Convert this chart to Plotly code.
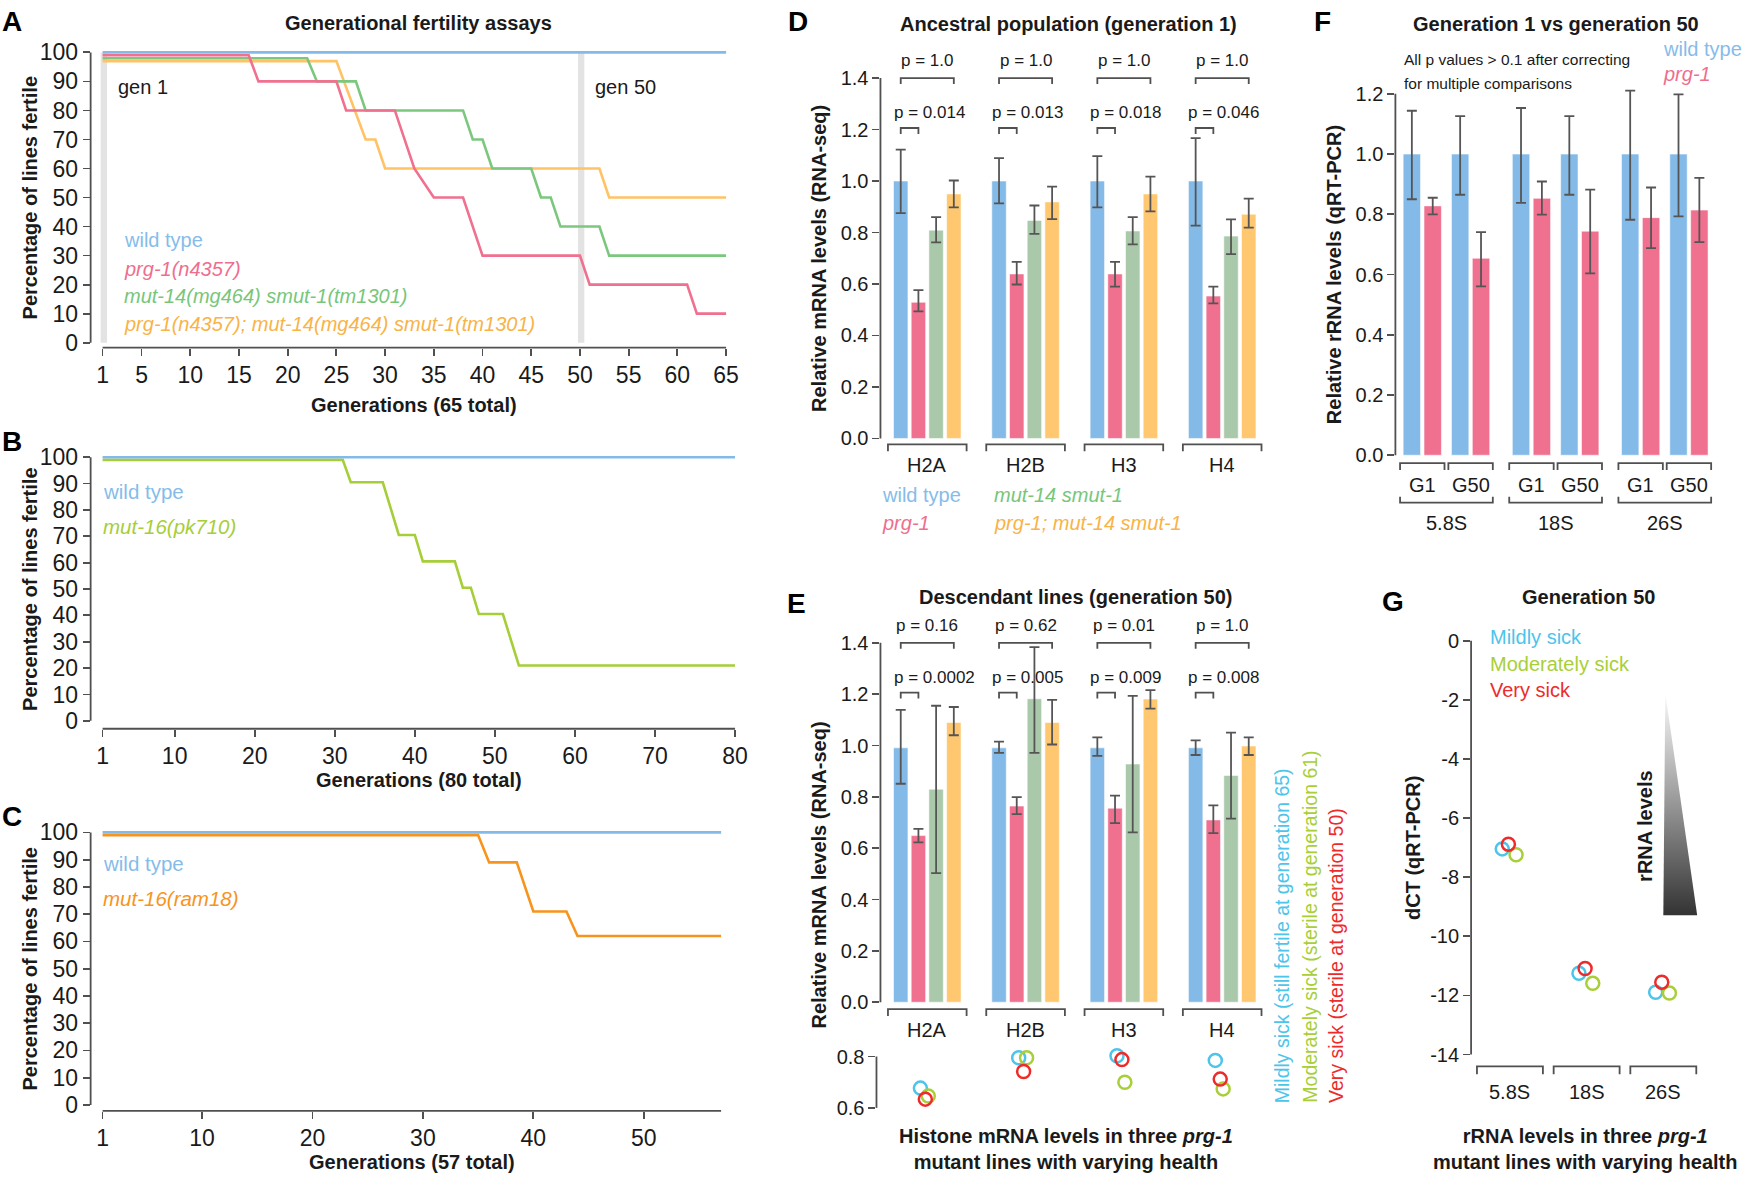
import plotly.graph_objects as go

W, H = 1749, 1186
FONT = "Liberation Sans, Arial, Helvetica, sans-serif"

# ======================= DATA =======================
# Panel A
pct_ticks = [0, 10, 20, 30, 40, 50, 60, 70, 80, 90, 100]
a_xticks = [1, 5, 10, 15, 20, 25, 30, 35, 40, 45, 50, 55, 60, 65]
a_wt_gen = [1, 65]
a_wt_pct = [100, 100]
a_prg1_gen = [1, 16, 17, 25, 26, 31, 33, 35, 38, 40, 50, 51, 61, 62, 65]
a_prg1_pct = [99, 99, 90, 90, 80, 80, 60, 50, 50, 30, 30, 20, 20, 10, 10]
a_mut14_gen = [1, 22, 23, 27, 28, 38, 39, 40, 41, 45, 46, 47, 48, 52, 53, 65]
a_mut14_pct = [98, 98, 90, 90, 80, 80, 70, 70, 60, 60, 50, 50, 40, 40, 30, 30]
a_double_gen = [1, 25, 28, 29, 30, 52, 53, 65]
a_double_pct = [97, 97, 70, 70, 60, 60, 50, 50]
a_marked_gens = [1, 50]
a_marked_labels = ["gen 1", "gen 50"]
a_legend = ["wild type", "prg-1(n4357)", "mut-14(mg464) smut-1(tm1301)",
            "prg-1(n4357); mut-14(mg464) smut-1(tm1301)"]

# Panel B
b_xticks = [1, 10, 20, 30, 40, 50, 60, 70, 80]
b_wt_gen = [1, 80]
b_wt_pct = [100, 100]
b_mut16_gen = [1, 31, 32, 36, 38, 40, 41, 45, 46, 47, 48, 51, 53, 80]
b_mut16_pct = [99, 99, 90.5, 90.5, 70.5, 70.5, 60.5, 60.5, 50.5, 50.5, 40.5, 40.5, 21, 21]
b_legend = ["wild type", "mut-16(pk710)"]

# Panel C
c_xticks = [1, 10, 20, 30, 40, 50]
c_wt_gen = [1, 57]
c_wt_pct = [100, 100]
c_ram18_gen = [1, 35, 36, 38.5, 40, 43, 44, 57]
c_ram18_pct = [99, 99, 89, 89, 71, 71, 62, 62]
c_legend = ["wild type", "mut-16(ram18)"]

# Panel D (generation 1 RNA-seq)
histones = ["H2A", "H2B", "H3", "H4"]
mrna_ticks = [0, 0.2, 0.4, 0.6, 0.8, 1.0, 1.2, 1.4]
mrna_ticktext = ["0.0", "0.2", "0.4", "0.6", "0.8", "1.0", "1.2", "1.4"]
d_wt = [1.0, 1.0, 1.0, 1.0]
d_wt_hi = [1.122, 1.089, 1.097, 1.167]
d_wt_lo = [0.875, 0.913, 0.898, 0.827]
d_prg1 = [0.529, 0.639, 0.639, 0.553]
d_prg1_hi = [0.576, 0.686, 0.686, 0.590]
d_prg1_lo = [0.494, 0.598, 0.590, 0.525]
d_mut14 = [0.809, 0.847, 0.806, 0.786]
d_mut14_hi = [0.860, 0.905, 0.860, 0.851]
d_mut14_lo = [0.762, 0.795, 0.754, 0.716]
d_double = [0.950, 0.919, 0.950, 0.871]
d_double_hi = [1.002, 0.978, 1.017, 0.932]
d_double_lo = [0.898, 0.852, 0.882, 0.819]
d_p_outer = ["p = 1.0", "p = 1.0", "p = 1.0", "p = 1.0"]
d_p_inner = ["p = 0.014", "p = 0.013", "p = 0.018", "p = 0.046"]
d_legend = ["wild type", "prg-1", "mut-14 smut-1", "prg-1; mut-14 smut-1"]

# Panel E (generation 50 RNA-seq)
e_wt = [0.991, 0.991, 0.991, 0.991]
e_wt_hi = [1.139, 1.015, 1.032, 1.020]
e_wt_lo = [0.851, 0.971, 0.960, 0.963]
e_prg1 = [0.649, 0.764, 0.756, 0.710]
e_prg1_hi = [0.675, 0.799, 0.805, 0.767]
e_prg1_lo = [0.623, 0.733, 0.698, 0.659]
e_mut14 = [0.830, 1.182, 0.928, 0.883]
e_mut14_hi = [1.155, 1.383, 1.193, 1.050]
e_mut14_lo = [0.503, 0.971, 0.662, 0.715]
e_double = [1.090, 1.090, 1.181, 0.998]
e_double_hi = [1.150, 1.178, 1.216, 1.032]
e_double_lo = [1.040, 1.004, 1.144, 0.963]
e_p_outer = ["p = 0.16", "p = 0.62", "p = 0.01", "p = 1.0"]
e_p_inner = ["p = 0.0002", "p = 0.005", "p = 0.009", "p = 0.008"]
dot_ticks = [0.6, 0.8]
dot_ticktext = ["0.6", "0.8"]
e_mild = [0.677, 0.795, 0.803, 0.785]
e_moderate = [0.646, 0.795, 0.700, 0.674]
e_very = [0.634, 0.742, 0.788, 0.712]
health_legend = ["Mildly sick (still fertile at generation 65)",
                 "Moderately sick (sterile at generation 61)",
                 "Very sick (sterile at generation 50)"]

# Panel F (qRT-PCR rRNA)
rrnas = ["5.8S", "18S", "26S"]
f_gens = ["G1", "G50"]
rrna_ticks = [0, 0.2, 0.4, 0.6, 0.8, 1.0, 1.2]
rrna_ticktext = ["0.0", "0.2", "0.4", "0.6", "0.8", "1.0", "1.2"]
f_wt = [1.0, 1.0, 1.0, 1.0, 1.0, 1.0]
f_wt_hi = [1.144, 1.126, 1.153, 1.126, 1.211, 1.198]
f_wt_lo = [0.850, 0.865, 0.838, 0.865, 0.782, 0.793]
f_prg1 = [0.828, 0.654, 0.853, 0.744, 0.789, 0.814]
f_prg1_hi = [0.855, 0.741, 0.909, 0.882, 0.889, 0.921]
f_prg1_lo = [0.800, 0.561, 0.799, 0.604, 0.688, 0.708]

# Panel G (dCT)
dct_ticks = [0, -2, -4, -6, -8, -10, -12, -14]
dct_ticktext = ["0", "-2", "-4", "-6", "-8", "-10", "-12", "-14"]
g_mild = [-7.04, -11.25, -11.89]
g_moderate = [-7.24, -11.59, -11.92]
g_very = [-6.88, -11.09, -11.55]
g_legend = ["Mildly sick", "Moderately sick", "Very sick"]

# ======================= STYLE =======================
C_WT = "#84BAE7"
C_PRG = "#F0708F"
C_MUT_LINE = "#7CC77E"
C_MUT_BAR = "#A9C9AA"
C_DBL_LINE = "#FFC265"
C_DBL_BAR = "#FFC870"
C_WT_TXT = "#86BCEA"
C_PRG_TXT = "#EE6E8E"
C_MUT_TXT = "#78C67A"
C_DBL_TXT = "#F9B347"
C_PK710 = "#A6CE39"
C_RAM18 = "#F7941D"
C_MILD = "#4DC4EA"
C_MOD = "#A8CF38"
C_VERY = "#EE2B2B"
AX = "#505050"
AXW = 1.8
TXT = "#1a1a1a"
ERR = dict(color="#555555", thickness=1.8, width=5)
BAR_EDGE = dict(width=1, color="rgba(255,255,255,0.55)")


class Panel:
    def __init__(self, xd, xp, yd, yp, box):
        self.sx = (xp[1] - xp[0]) / (xd[1] - xd[0])
        self.x0d, self.x0p = xd[0], xp[0]
        self.sy = (yp[1] - yp[0]) / (yd[1] - yd[0])
        self.y0d, self.y0p = yd[0], yp[0]
        self.box = box

    def px(self, d):
        return self.x0p + (d - self.x0d) * self.sx

    def py(self, d):
        return self.y0p + (d - self.y0d) * self.sy

    def dx(self, p):
        return self.x0d + (p - self.x0p) / self.sx

    def dy(self, p):
        return self.y0d + (p - self.y0p) / self.sy

    def xrange(self):
        return [self.dx(self.box[0]), self.dx(self.box[2])]

    def yrange(self):
        return [self.dy(self.box[3]), self.dy(self.box[1])]

    def xdomain(self):
        return [self.box[0] / W, self.box[2] / W]

    def ydomain(self):
        return [1 - self.box[3] / H, 1 - self.box[1] / H]


PA = Panel((1, 65), (103, 729), (0, 100), (342, 48), (91, 40, 735, 347))
PB = Panel((1, 80), (103, 738), (0, 100), (725, 458), (91, 450, 744, 733))
PC = Panel((1, 57), (103, 724), (0, 100), (1114, 838), (91, 830, 730, 1120))
PD = Panel((0, 1), (931, 1029.7), (0, 1.4), (439, 74), (884, 60, 1272, 440))
PE = Panel((0, 1), (931, 1029.7), (0, 1.4), (1010, 646), (884, 632, 1272, 1011))
PE2 = Panel((0, 1), (931, 1029.7), (0.6, 0.8), (1117, 1065), (880, 1050, 1272, 1125))
PF = Panel((0, 1), (1428, 1476.5), (0, 1.2), (456, 90), (1401, 80, 1725, 457))
PG = Panel((0, 1), (1516, 1593), (0, -14), (644, 1063), (1477, 630, 1712, 1064))

fig = go.Figure()
layout_axes = {}
shapes = []
ann = []


def fx(p):
    return p / W


def fy(p):
    return 1 - p / H


def hline(x0, y0, x1, y1, color=AX, width=AXW):
    shapes.append(dict(type="line", xref="paper", yref="paper", x0=fx(x0), y0=fy(y0),
                       x1=fx(x1), y1=fy(y1), line=dict(color=color, width=width)))


def bracket(x0, x1, y, drop, color=AX, width=AXW):
    path = (f"M {fx(x0)},{fy(y + drop)} L {fx(x0)},{fy(y)} "
            f"L {fx(x1)},{fy(y)} L {fx(x1)},{fy(y + drop)}")
    shapes.append(dict(type="path", xref="paper", yref="paper", path=path,
                       line=dict(color=color, width=width)))


def txt(x, y, s, size=20, color=TXT, xanchor="center", yanchor="middle", angle=0):
    ann.append(dict(x=fx(x), y=fy(y), xref="paper", yref="paper", text=s, showarrow=False,
                    xanchor=xanchor, yanchor=yanchor, textangle=angle, borderpad=0,
                    font=dict(family=FONT, size=size, color=color)))


def names(i):
    s = "" if i == 1 else str(i)
    return "xaxis" + s, "yaxis" + s, "x" + s, "y" + s


def setup(i, P, yvals, ytext, tick_size, xvals=None):
    xa, ya, xr, yr = names(i)
    base = dict(showgrid=False, zeroline=False, showline=False, fixedrange=True)
    xd = dict(base, domain=P.xdomain(), range=P.xrange(), anchor=yr)
    if xvals is not None:
        xd.update(tickmode="array", tickvals=xvals, ticktext=[str(v) for v in xvals],
                  ticks="outside", ticklen=7, tickwidth=AXW, tickcolor=AX,
                  tickfont=dict(family=FONT, size=tick_size, color=TXT))
    else:
        xd.update(showticklabels=False, ticks="")
    yd = dict(base, domain=P.ydomain(), range=P.yrange(), anchor=xr,
              tickmode="array", tickvals=yvals, ticktext=ytext, ticks="outside",
              ticklen=7, tickwidth=AXW, tickcolor=AX,
              tickfont=dict(family=FONT, size=tick_size, color=TXT))
    layout_axes[xa] = xd
    layout_axes[ya] = yd
    return xr, yr


# ======================= PANELS A-C =======================
def line_panel(i, P, xticks, series, last_gen, ytitle_y, xtitle, xtitle_y):
    xr, yr = setup(i, P, pct_ticks, [str(v) for v in pct_ticks], 23, xticks)
    for gx, gy, col in series:
        fig.add_trace(go.Scatter(x=gx, y=gy, mode="lines", line=dict(color=col, width=2.6),
                                 xaxis=xr, yaxis=yr, hoverinfo="skip"))
    hline(P.box[0], P.py(0), P.box[0], P.py(100))
    hline(P.px(1), P.box[3], P.px(last_gen), P.box[3])
    txt(30, ytitle_y, "<b>Percentage of lines fertile</b>", 20, angle=-90)
    txt((P.px(1) + P.px(last_gen)) / 2, xtitle_y, f"<b>{xtitle}</b>", 20)
    return xr, yr


xrA, yrA = line_panel(1, PA, a_xticks,
                      [(a_double_gen, a_double_pct, C_DBL_LINE),
                       (a_mut14_gen, a_mut14_pct, C_MUT_LINE),
                       (a_prg1_gen, a_prg1_pct, C_PRG),
                       (a_wt_gen, a_wt_pct, C_WT)],
                      65, (PA.py(0) + PA.py(100)) / 2, "Generations (65 total)", 405)
for g, lab in zip(a_marked_gens, a_marked_labels):
    shapes.append(dict(type="rect", xref=xrA, yref=yrA, x0=g - 0.2, x1=g + 0.45, y0=0, y1=100,
                       fillcolor="#E3E3E3", line=dict(width=0), layer="below"))
    txt(PA.px(g) + 14, 83, lab, 20, xanchor="left")
txt(420, 18, "<b>Generational fertility assays</b>", 20)
for lab, col, yy, it in zip(a_legend, [C_WT_TXT, C_PRG_TXT, C_MUT_TXT, C_DBL_TXT],
                            [238, 267, 295, 323], [False, True, True, True]):
    txt(123, yy, f"<i>{lab}</i>" if it else lab, 20, col, xanchor="left")

line_panel(2, PB, b_xticks,
           [(b_mut16_gen, b_mut16_pct, C_PK710), (b_wt_gen, b_wt_pct, C_WT)],
           80, (PB.py(0) + PB.py(100)) / 2, "Generations (80 total)", 785)
txt(102, 493, b_legend[0], 20.5, C_WT_TXT, xanchor="left")
txt(102, 528, f"<i>{b_legend[1]}</i>", 20.5, C_PK710, xanchor="left")

line_panel(3, PC, c_xticks,
           [(c_ram18_gen, c_ram18_pct, C_RAM18), (c_wt_gen, c_wt_pct, C_WT)],
           57, (PC.py(0) + PC.py(100)) / 2, "Generations (57 total)", 1172)
txt(102, 870, c_legend[0], 20.5, C_WT_TXT, xanchor="left")
txt(102, 905, f"<i>{c_legend[1]}</i>", 20.5, C_RAM18, xanchor="left")

# ======================= PANELS D / E =======================
PITCH, BW = 0.18, 0.147
OFF4 = [-1.5, -0.5, 0.5, 1.5]


def bar_panel(i, P, series, p_outer, p_inner, group_label_y, bracket_y):
    xr, yr = setup(i, P, mrna_ticks, mrna_ticktext, 20)
    for j, (vals, hi, lo, col) in enumerate(series):
        fig.add_trace(go.Bar(
            x=[k + OFF4[j] * PITCH for k in range(len(vals))], y=vals, width=BW,
            marker=dict(color=col, line=BAR_EDGE),
            error_y=dict(type="data", symmetric=False,
                         array=[h - v for h, v in zip(hi, vals)],
                         arrayminus=[v - l for v, l in zip(vals, lo)], **ERR),
            xaxis=xr, yaxis=yr, hoverinfo="skip"))
    hline(P.box[0], P.py(0), P.box[0], P.py(1.4))
    for k, g in enumerate(histones):
        c_blue = P.px(k + OFF4[0] * PITCH)
        c_pink = P.px(k + OFF4[1] * PITCH)
        c_orng = P.px(k + OFF4[3] * PITCH)
        bracket(P.px(k - 0.4), P.px(k + 0.4), bracket_y, 7)
        txt(P.px(k), group_label_y, g, 20)
        bracket(c_blue, c_orng, P.py(1.40), 6)
        txt((c_blue + c_orng) / 2, P.py(1.468), p_outer[k], 17)
        bracket(c_blue, c_pink, P.py(1.206), 6)
        txt(P.px(k + OFF4[0] * PITCH - BW / 2) - 1, P.py(1.266), p_inner[k], 17, xanchor="left")
    return xr, yr


bar_panel(4, PD, [(d_wt, d_wt_hi, d_wt_lo, C_WT), (d_prg1, d_prg1_hi, d_prg1_lo, C_PRG),
                  (d_mut14, d_mut14_hi, d_mut14_lo, C_MUT_BAR),
                  (d_double, d_double_hi, d_double_lo, C_DBL_BAR)],
          d_p_outer, d_p_inner, 466, 445)
txt(1073, 19, "<b>Ancestral population (generation 1)</b>", 20)
txt(823, (PD.py(0) + PD.py(1.4)) / 2, "<b>Relative mRNA levels (RNA-seq)</b>", 20, angle=-90)
txt(885, 496, d_legend[0], 20, C_WT_TXT, xanchor="left")
txt(885, 525, f"<i>{d_legend[1]}</i>", 20, C_PRG_TXT, xanchor="left")
txt(997, 496, f"<i>{d_legend[2]}</i>", 20, C_MUT_TXT, xanchor="left")
txt(997, 525, f"<i>{d_legend[3]}</i>", 20, C_DBL_TXT, xanchor="left")

bar_panel(5, PE, [(e_wt, e_wt_hi, e_wt_lo, C_WT), (e_prg1, e_prg1_hi, e_prg1_lo, C_PRG),
                  (e_mut14, e_mut14_hi, e_mut14_lo, C_MUT_BAR),
                  (e_double, e_double_hi, e_double_lo, C_DBL_BAR)],
          e_p_outer, e_p_inner, 1038, 1017)
txt(1080, 600, "<b>Descendant lines (generation 50)</b>", 20)
txt(822, 881, "<b>Relative mRNA levels (RNA-seq)</b>", 20, angle=-90)

# E dots
xr6, yr6 = setup(6, PE2, dot_ticks, dot_ticktext, 20)
hline(PE2.box[0], PE2.py(0.6), PE2.box[0], PE2.py(0.8))
for vals, col, off in [(e_mild, C_MILD, -0.07), (e_moderate, C_MOD, 0.01), (e_very, C_VERY, -0.02)]:
    fig.add_trace(go.Scatter(x=[k + off for k in range(len(vals))], y=vals, mode="markers",
                             marker=dict(symbol="circle-open", size=13, color=col,
                                         line=dict(width=2.5, color=col)),
                             xaxis=xr6, yaxis=yr6, hoverinfo="skip"))
txt(1070, 1159, "<b>Histone mRNA levels in three <i>prg-1</i><br>mutant lines with varying health</b>", 20)
for lab, col, xx in zip(health_legend, [C_MILD, C_MOD, C_VERY], [1288, 1315, 1342]):
    txt(xx, 1113, lab, 19.5, col, yanchor="bottom", angle=-90)

# ======================= PANEL F =======================
xr7, yr7 = setup(7, PF, rrna_ticks, rrna_ticktext, 20)
RSTEP, FOFF, FBW = 2.26, 0.216, 0.36
f_pos = [r * RSTEP + g for r in range(len(rrnas)) for g in range(len(f_gens))]
for vals, hi, lo, col, sgn in [(f_wt, f_wt_hi, f_wt_lo, C_WT, -1), (f_prg1, f_prg1_hi, f_prg1_lo, C_PRG, 1)]:
    fig.add_trace(go.Bar(
        x=[p + sgn * FOFF for p in f_pos], y=vals, width=FBW,
        marker=dict(color=col, line=BAR_EDGE),
        error_y=dict(type="data", symmetric=False,
                     array=[h - v for h, v in zip(hi, vals)],
                     arrayminus=[v - l for v, l in zip(vals, lo)], **ERR),
        xaxis=xr7, yaxis=yr7, hoverinfo="skip"))
hline(PF.box[0], PF.py(0), PF.box[0], PF.py(1.2))
for r, rn in enumerate(rrnas):
    for g, gn in enumerate(f_gens):
        p = r * RSTEP + g
        bracket(PF.px(p - 0.46), PF.px(p + 0.46), 464, 7)
        txt(PF.px(p), 486, gn, 20)
    bracket(PF.px(r * RSTEP - 0.46), PF.px(r * RSTEP + 1.46), 504, -6)
    txt(PF.px(r * RSTEP + 0.5), 525, rn, 20)
txt(1562, 19, "<b>Generation 1 vs generation 50</b>", 20)
txt(1339, (PF.py(0) + PF.py(1.2)) / 2, "<b>Relative rRNA levels (qRT-PCR)</b>", 20, angle=-90)
txt(1409, 55, "All p values > 0.1 after correcting", 15.5, xanchor="left")
txt(1409, 80, "for multiple comparisons", 15.5, xanchor="left")
txt(1669, 45, "wild type", 20, C_WT_TXT, xanchor="left")
txt(1669, 70, "<i>prg-1</i>", 20, C_PRG_TXT, xanchor="left")

# ======================= PANEL G =======================
xr8, yr8 = setup(8, PG, dct_ticks, dct_ticktext, 20)
hline(PG.box[0], PG.py(0), PG.box[0], PG.py(-14))
tri_x = [PG.dx(1672), PG.dx(1704), PG.dx(1670), PG.dx(1672)]
tri_y = [PG.dy(697), PG.dy(922), PG.dy(922), PG.dy(697)]
fig.add_trace(go.Scatter(x=tri_x, y=tri_y, mode="lines", fill="toself",
                         line=dict(width=0, color="rgba(0,0,0,0)"),
                         fillgradient=dict(type="vertical",
                                           colorscale=[[0, "#333333"], [1, "#FAFAFA"]]),
                         xaxis=xr8, yaxis=yr8, hoverinfo="skip"))
for vals, col, off in [(g_mild, C_MILD, -0.10), (g_moderate, C_MOD, 0.08), (g_very, C_VERY, -0.02)]:
    fig.add_trace(go.Scatter(x=[k + off for k in range(len(vals))], y=vals, mode="markers",
                             marker=dict(symbol="circle-open", size=13, color=col,
                                         line=dict(width=2.5, color=col)),
                             xaxis=xr8, yaxis=yr8, hoverinfo="skip"))
for k, rn in enumerate(rrnas):
    bracket(PG.px(k - 0.43), PG.px(k + 0.43), 1075, 8)
    txt(PG.px(k), 1101, rn, 20)
txt(1595, 600, "<b>Generation 50</b>", 20)
txt(1418, (PG.py(0) + PG.py(-14)) / 2, "<b>dCT (qRT-PCR)</b>", 20, angle=-90)
for lab, col, yy in zip(g_legend, [C_MILD, C_MOD, C_VERY], [640, 667, 694]):
    txt(1495, yy, lab, 20, col, xanchor="left")
txt(1652, 831, "<b>rRNA levels</b>", 20, angle=-90)
txt(1592, 1159, "<b>rRNA levels in three <i>prg-1</i><br>mutant lines with varying health</b>", 20)

# ======================= PANEL LETTERS =======================
for lab, (x, y) in zip("ABCDEFG", [(12, 17), (12, 442), (12, 822), (801, 17), (800, 606),
                                   (1328, 17), (1399, 604)]):
    txt(x, y, f"<b>{lab}</b>", 28, "#000000")

fig.update_layout(width=W, height=H, autosize=False, margin=dict(l=0, r=0, t=0, b=0),
                  paper_bgcolor="white", plot_bgcolor="white", showlegend=False,
                  barmode="overlay", font=dict(family=FONT, color=TXT),
                  shapes=shapes, annotations=ann, **layout_axes)
fig.write_html("out.html", config={"displayModeBar": False, "staticPlot": True},
               post_script="document.body.style.margin='0';document.body.style.padding='0';"
                           "document.body.style.overflow='hidden';")
